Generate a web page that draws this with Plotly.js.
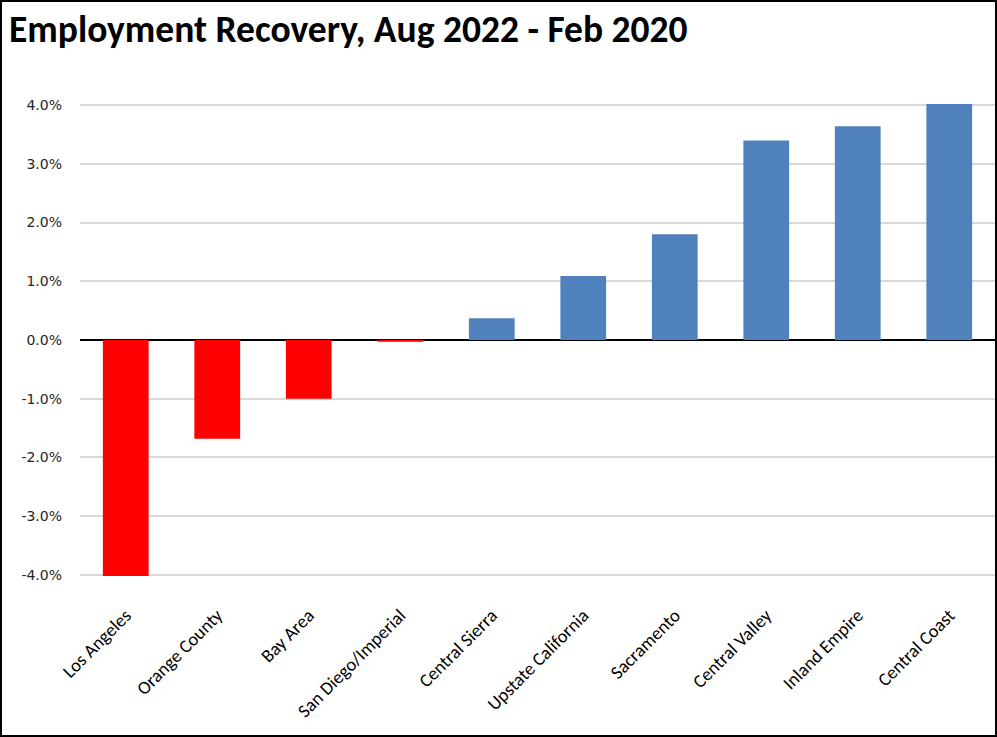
<!DOCTYPE html>
<html>
<head>
<meta charset="utf-8">
<script src="https://cdn.plot.ly/plotly-3.0.1.min.js"></script>
<style>
  html, body { margin: 0; padding: 0; background: #fff; }
  #wrap { position: relative; width: 997px; height: 737px; }
  #chart { position: absolute; left: 0; top: 0; width: 997px; height: 737px; }
  #frame { position: absolute; left: 0; top: 0; width: 997px; height: 737px; box-sizing: border-box; border: 2px solid #000; pointer-events: none; }
</style>
</head>
<body>
<div id="wrap"><div id="chart"></div><div id="frame"></div></div>
<script>
const regions = ["Los Angeles", "Orange County", "Bay Area", "San Diego/Imperial", "Central Sierra",
                 "Upstate California", "Sacramento", "Central Valley", "Inland Empire", "Central Coast"];
const recoveryPct = [-4.02, -1.68, -1.00, -0.03, 0.37, 1.09, 1.80, 3.40, 3.64, 4.02];
const yTickVals = [-4, -3, -2, -1, 0, 1, 2, 3, 4];
const yTickText = ["-4.0%", "-3.0%", "-2.0%", "-1.0%", "0.0%", "1.0%", "2.0%", "3.0%", "4.0%"];
const titleText = "Employment Recovery, Aug 2022 - Feb 2020";

const barColors = recoveryPct.map(v => v < 0 ? "#FF0000" : "#4F81BD");

const trace = {
  type: "bar",
  x: regions,
  y: recoveryPct,
  marker: { color: barColors, line: { width: 0 } },
  hoverinfo: "x+y"
};

const layout = {
  width: 997,
  height: 737,
  margin: { l: 80, r: 2, t: 104, b: 161 },
  paper_bgcolor: "#ffffff",
  plot_bgcolor: "#ffffff",
  bargap: 0.5,
  showlegend: false,
  title: {
    text: "<b>" + titleText + "</b>",
    xref: "container", yref: "container",
    x: 9 / 997, xanchor: "left",
    y: 1 - 29 / 737, yanchor: "middle",
    font: { family: "Carlito, Lato, 'Liberation Sans Narrow', sans-serif", size: 37.5, color: "#000" }
  },
  xaxis: {
    type: "category",
    tickangle: -45,
    showgrid: false,
    showline: false,
    ticks: "",
    ticklabelstandoff: 24,
    tickfont: { family: "Carlito, Lato, sans-serif", size: 18.5, color: "#000" }
  },
  yaxis: {
    range: [-4.02, 4.02],
    tickvals: yTickVals,
    ticktext: yTickText,
    showgrid: true,
    gridcolor: "#D9D9D9",
    gridwidth: 2,
    zeroline: true,
    zerolinecolor: "#000",
    zerolinewidth: 2,
    showline: false,
    ticks: "",
    ticklabelstandoff: 17,
    tickfont: { family: "'DejaVu Sans', Verdana, sans-serif", size: 14, color: "#262626" }
  }
};

Plotly.newPlot("chart", [trace], layout, { displayModeBar: false, staticPlot: true });
</script>
</body>
</html>
